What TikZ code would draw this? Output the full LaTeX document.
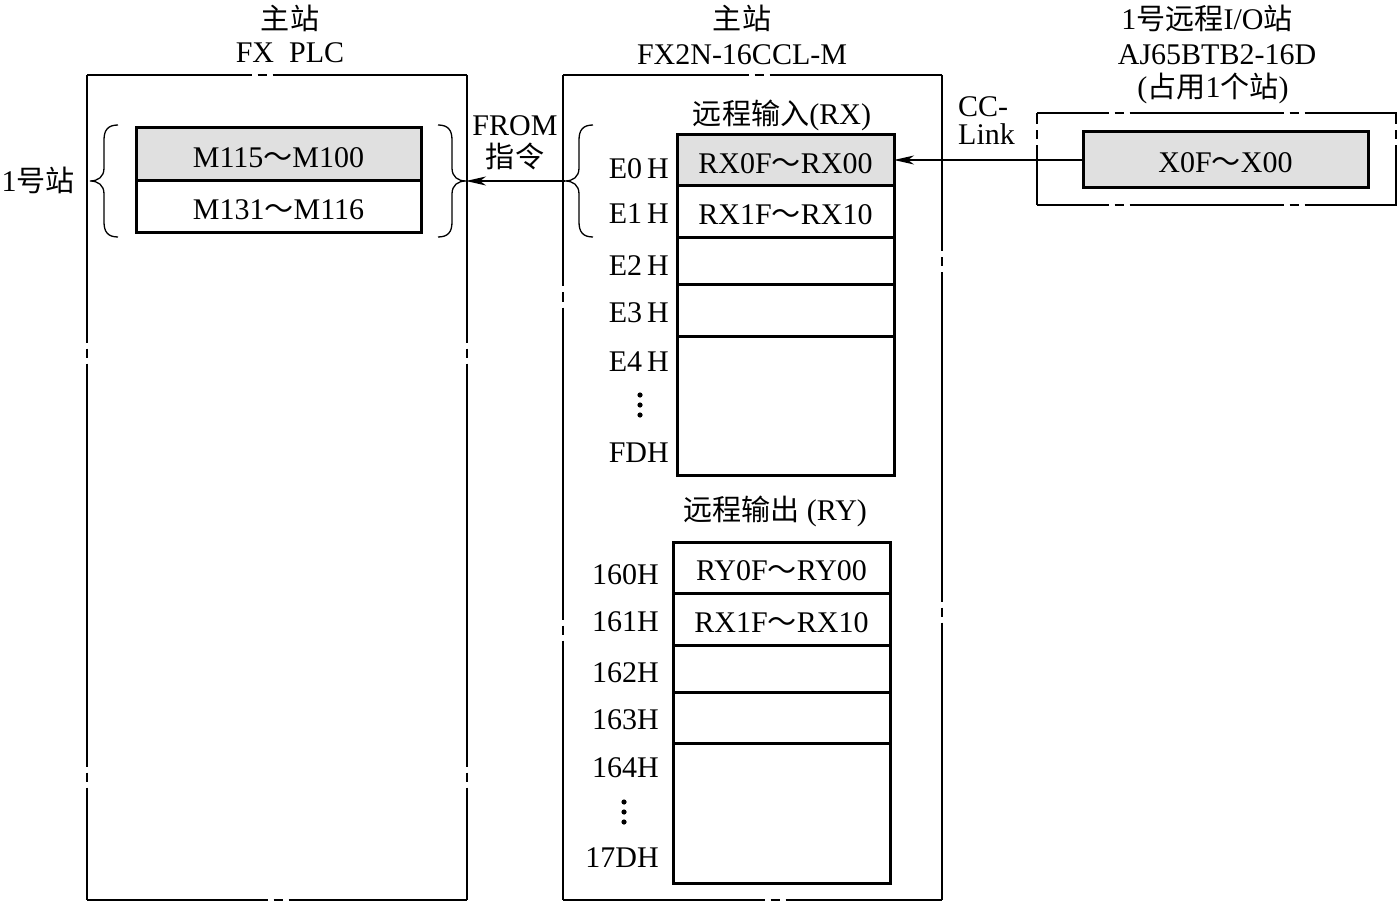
\documentclass[tikz,border=0pt]{standalone}
\usepackage{fontspec}
\setmainfont{Liberation Serif}
\newfontfamily\cjk{Noto Sans CJK SC}[Scale=0.97]
\usetikzlibrary{arrows.meta}
\newcommand\zh[1]{{\cjk #1}}
\newcommand\tld{{\cjk ～}}
\begin{document}
\begin{tikzpicture}[x=1pt,y=-1pt,
  font=\fontsize{30}{36}\selectfont,
  box/.style={line width=1.5pt},
  dd/.style 2 args={box, dash pattern=on #1pt off 6pt on 9pt off 6pt, dash phase=#2pt},
  cell/.style={draw, line width=3pt, inner sep=0pt, outer sep=0pt, text height=26pt, text depth=0pt, align=center},
  shade/.style={fill=black!12},
  arr/.style={line width=1.3pt, -{Stealth[length=20pt,width=9pt,inset=6pt]}},
  lbl/.style={anchor=base, inner sep=0pt},
  addr/.style={anchor=base east, inner sep=0pt},
  brc/.style={line width=1.3pt},
  lbr/.pic={\draw[brc] (28,-56) .. controls (18,-56) and (14,-51) .. (14,-41) -- (14,-13) .. controls (14,-4) and (8,0) .. (0,0) .. controls (8,0) and (14,4) .. (14,13) -- (14,41) .. controls (14,51) and (18,56) .. (28,56);}
]
\useasboundingbox (0,0) rectangle (1397,901);

% ---------- left box: FX PLC ----------
\draw[dd={2000}{1835.5}] (87,75) -- (467,75);
\draw[dd={2000}{1819.5}] (87,900) -- (467,900);
\draw[dd={403}{135.5}] (87,75) -- (87,900);
\draw[dd={403}{135.5}] (467,75) -- (467,900);

% ---------- middle box: FX2N-16CCL-M ----------
\draw[dd={2000}{1814.5}] (563,75) -- (942,75);
\draw[dd={2000}{1798.5}] (563,900) -- (942,900);
\draw[dd={312}{100.5}] (563,75) -- (563,900);
\draw[dd={329}{152.5}] (942,75) -- (942,900);

% ---------- right box: remote I/O ----------
\draw[dd={154}{82.5}] (1037,113) -- (1420,113);
\draw[dd={154}{82.5}] (1037,205) -- (1420,205);
\draw[dd={2000}{1988.5}] (1037,113) -- (1037,205);
\draw[dd={2000}{1988.5}] (1396,113) -- (1396,205);

% ---------- titles ----------
\node[lbl] (t1a) at (290,30) {\zh{主站}};
\node[lbl] (t1b) at (290,63) {FX\hspace{0.5em}PLC};
\node[lbl] (t2a) at (742,30) {\zh{主站}};
\node[lbl] (t2b) at (742,65) {FX2N-16CCL-M};
\node[lbl] (t3a) at (1207,30) {1\zh{号远程}I/O\zh{站}};
\node[lbl] (t3b) at (1217,65) {AJ65BTB2-16D};
\node[lbl] (t3c) at (1213,98) {(\zh{占用}1\zh{个站})};
\node[anchor=base west, inner sep=0pt] (cc1) at (958,117) {CC-};
\node[anchor=base west, inner sep=0pt] (cc2) at (958,145) {Link};
\node[lbl] (from1) at (515,136) {FROM};
\node[lbl] (from2) at (515,168) {\zh{指令}};
\node[lbl] (rxt) at (782,125) {\zh{远程输入}(RX)};
\node[lbl] (ryt) at (775,520) {\zh{远程输出}\ (RY)};
\node[anchor=base east, inner sep=0pt] (st1) at (75,192) {1\zh{号站}};

% ---------- M table ----------
\node[cell, shade, minimum width=285pt, minimum height=53pt] (m1) at (278.5,154.5) {M115\tld M100};
\node[cell, minimum width=285pt, minimum height=52pt] (m2) at (278.5,207) {M131\tld M116};

% ---------- RX table ----------
\node[cell, shade, minimum width=217pt, minimum height=51pt] (rx0) at (785.5,160.5) {RX0F\tld RX00};
\node[cell, minimum width=217pt, minimum height=52pt] (rx1) at (785.5,212) {RX1F\tld RX10};
\node[cell, minimum width=217pt, minimum height=47pt] (rx2) at (785.5,261.5) {};
\node[cell, minimum width=217pt, minimum height=51pt] (rx3) at (785.5,310.5) {};
\node[cell, minimum width=217pt, minimum height=139pt] (rx4) at (785.5,405.5) {};

\node[addr] (a0) at (669,179) {E0\,H};
\node[addr] (a1) at (669,224) {E1\,H};
\node[addr] (a2) at (669,276) {E2\,H};
\node[addr] (a3) at (669,323) {E3\,H};
\node[addr] (a4) at (669,371) {E4\,H};
\node[addr] (a5) at (669,462) {FDH};
\fill (640,395) circle (2.6pt) (640,405) circle (2.6pt) (640,415) circle (2.6pt);

% ---------- RY table ----------
\node[cell, minimum width=217pt, minimum height=51pt] (ry0) at (781.5,567.5) {RY0F\tld RY00};
\node[cell, minimum width=217pt, minimum height=52pt] (ry1) at (781.5,619) {RX1F\tld RX10};
\node[cell, minimum width=217pt, minimum height=47pt] (ry2) at (781.5,668.5) {};
\node[cell, minimum width=217pt, minimum height=51pt] (ry3) at (781.5,717.5) {};
\node[cell, minimum width=217pt, minimum height=140pt] (ry4) at (781.5,813) {};

\node[addr] (b0) at (659,584) {160H};
\node[addr] (b1) at (659,631) {161H};
\node[addr] (b2) at (659,682) {162H};
\node[addr] (b3) at (659,729) {163H};
\node[addr] (b4) at (659,777) {164H};
\node[addr] (b5) at (659,867) {17DH};
\fill (624,802) circle (2.6pt) (624,812) circle (2.6pt) (624,822) circle (2.6pt);

% ---------- remote station register ----------
\node[cell, shade, minimum width=285pt, minimum height=56pt] (x0f) at (1225.5,160) {X0F\tld X00};

% ---------- braces ----------
\coordinate (bl) at (90,181);
\coordinate (br) at (466,181);
\coordinate (bm) at (565,181);
\pic at (bl) {lbr};
\pic[xscale=-1] at (br) {lbr};
\pic at (bm) {lbr};

% ---------- connectors ----------
\draw[arr] (x0f.west) -- (x0f.west -| rx0.east);
\draw[arr] (bm) -- (br);
\end{tikzpicture}
\end{document}
